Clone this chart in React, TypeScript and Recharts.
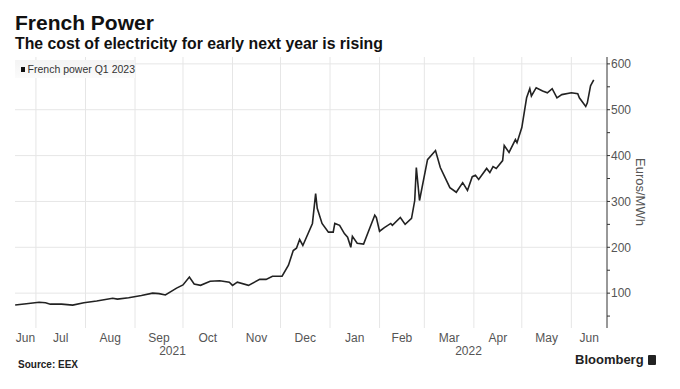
import { LineChart, Line, XAxis, YAxis, ReferenceLine } from "recharts";

// French power Q1 2023 contract, EUR/MWh
const dates = [
  "2021-06-18", "2021-06-25", "2021-07-03", "2021-07-07", "2021-07-10", "2021-07-17",
  "2021-07-24", "2021-07-31", "2021-08-08", "2021-08-18", "2021-08-21", "2021-08-28",
  "2021-09-05", "2021-09-12", "2021-09-16", "2021-09-20", "2021-09-27", "2021-10-01",
  "2021-10-05", "2021-10-08", "2021-10-12", "2021-10-18", "2021-10-24", "2021-10-30",
  "2021-11-01", "2021-11-04", "2021-11-11", "2021-11-18", "2021-11-22", "2021-11-26",
  "2021-12-02", "2021-12-06", "2021-12-09", "2021-12-11", "2021-12-13", "2021-12-15",
  "2021-12-21", "2021-12-23", "2021-12-24", "2021-12-27", "2021-12-31", "2022-01-03",
  "2022-01-04", "2022-01-07", "2022-01-10", "2022-01-12", "2022-01-14", "2022-01-15",
  "2022-01-18", "2022-01-22", "2022-01-26", "2022-01-29", "2022-01-30", "2022-02-01",
  "2022-02-04", "2022-02-08", "2022-02-09", "2022-02-14", "2022-02-17", "2022-02-21",
  "2022-02-23", "2022-02-24", "2022-02-26", "2022-03-03", "2022-03-08", "2022-03-11",
  "2022-03-14", "2022-03-17", "2022-03-21", "2022-03-25", "2022-03-28", "2022-03-31",
  "2022-04-02", "2022-04-04", "2022-04-09", "2022-04-11", "2022-04-13", "2022-04-15",
  "2022-04-19", "2022-04-20", "2022-04-23", "2022-04-27", "2022-04-28", "2022-05-01",
  "2022-05-04", "2022-05-06", "2022-05-07", "2022-05-10", "2022-05-14", "2022-05-17",
  "2022-05-20", "2022-05-23", "2022-05-26", "2022-06-01", "2022-06-05", "2022-06-06",
  "2022-06-10", "2022-06-11", "2022-06-13", "2022-06-15",
];

const prices = [
  74, 77, 80, 79, 76, 76,
  74, 79, 83, 89, 87, 90,
  95, 100, 99, 96, 111, 118,
  135, 120, 117, 126, 127, 124,
  117, 124, 117, 130, 130, 137,
  137, 161, 193, 198, 217, 204,
  252, 317, 285, 252, 233, 233,
  252, 248, 230, 222, 200, 224,
  209, 207, 243, 270, 265, 235,
  243, 252, 248, 265, 250, 263,
  302, 374, 302, 391, 411, 374,
  352, 330, 320, 341, 324, 354,
  357, 348, 372, 363, 376, 372,
  389, 422, 407, 435, 428, 461,
  526, 546, 530, 548, 541, 537,
  546, 526, 533, 537, 535, 526,
  507, 515, 552, 565,
];

const monthStarts = [
  "2021-07-01", "2021-08-01", "2021-09-01", "2021-10-01", "2021-11-01", "2021-12-01",
  "2022-01-01", "2022-02-01", "2022-03-01", "2022-04-01", "2022-05-01", "2022-06-01",
];
const monthLabels = ["Jun", "Jul", "Aug", "Sep", "Oct", "Nov", "Dec", "Jan", "Feb", "Mar", "Apr", "May", "Jun"];
const yearLabels = ["2021", "2022"];
const yGrid = [100, 200, 300, 400, 500, 600];
const yTicks = [50, 100, 150, 200, 250, 300, 350, 400, 450, 500, 550, 600];

const ORIGIN = Date.UTC(2021, 6, 1);
const toDay = (s: string) => {
  const [y, m, d] = s.split("-").map(Number);
  return (Date.UTC(y, m - 1, d) - ORIGIN) / 86400000;
};

const data = dates.map((d, i) => ({ t: toDay(d), v: prices[i] }));
const gridDays = monthStarts.map(toDay);
const xMin = -13.1;
const xMax = 357.3;

// label positions: middle of each visible month / year span
const bounds = [xMin, ...gridDays, xMax];
const monthTicks = monthLabels.map((_, i) => (bounds[i] + bounds[i + 1]) / 2);
const yearTicks = [(xMin + toDay("2022-01-01")) / 2, (toDay("2022-01-01") + xMax) / 2];

const font = "'Liberation Sans', Arial, sans-serif";
const grey = "#555";

export default function App() {
  return (
    <div
      style={{
        position: "fixed",
        left: 0,
        top: 0,
        width: 680,
        height: 389,
        background: "#fff",
        fontFamily: font,
        overflow: "hidden",
      }}
    >
      <div style={{ position: "absolute", left: 15, top: 11, fontSize: 21, fontWeight: 700, color: "#111" }}>
        French Power
      </div>
      <div style={{ position: "absolute", left: 15, top: 35, fontSize: 15.8, fontWeight: 700, color: "#111", whiteSpace: "nowrap" }}>
        The cost of electricity for early next year is rising
      </div>

      <div style={{ position: "absolute", left: 0, top: 0 }}>
        <LineChart width={680} height={389} data={data} margin={{ top: 57, right: 0, bottom: 0, left: 15 }}>
          {gridDays.map((d) => (
            <ReferenceLine key={"x" + d} x={d} stroke="#e6e6e6" strokeWidth={1} />
          ))}
          {yGrid.map((v) => (
            <ReferenceLine key={"y" + v} y={v} stroke="#e6e6e6" strokeWidth={1} />
          ))}
          <XAxis
            dataKey="t"
            type="number"
            domain={[xMin, xMax]}
            allowDataOverflow
            ticks={monthTicks}
            tickFormatter={(_v, i) => monthLabels[i]}
            interval={0}
            axisLine={false}
            tickLine={false}
            tickSize={0}
            tickMargin={5}
            height={14}
            tick={{ fill: grey, fontSize: 12, fontFamily: font }}
          />
          <XAxis
            xAxisId="year"
            dataKey="t"
            type="number"
            domain={[xMin, xMax]}
            allowDataOverflow
            ticks={yearTicks}
            tickFormatter={(_v, i) => yearLabels[i]}
            interval={0}
            axisLine={false}
            tickLine={false}
            tickSize={0}
            tickMargin={4}
            height={47}
            tick={{ fill: grey, fontSize: 12, fontFamily: font }}
          />
          <YAxis
            orientation="right"
            domain={[24, 615]}
            allowDataOverflow
            ticks={yTicks}
            interval={0}
            tickFormatter={(v) => (v % 100 === 0 ? String(v) : "")}
            axisLine={{ stroke: "#333", strokeWidth: 1 }}
            tickLine={{ stroke: "#333" }}
            tickSize={3}
            tickMargin={1}
            width={73}
            tick={{ fill: grey, fontSize: 12, fontFamily: font, textAnchor: "start" }}
          />
          <Line
            type="linear"
            dataKey="v"
            stroke="#222"
            strokeWidth={1.6}
            dot={false}
            isAnimationActive={false}
          />
        </LineChart>
      </div>

      <div
        style={{
          position: "absolute",
          left: 15,
          top: 60,
          width: 120,
          height: 18,
          background: "linear-gradient(#f4f4f4, #fbfbfb)",
          display: "flex",
          alignItems: "center",
          fontSize: 10.5,
          color: "#333",
          whiteSpace: "nowrap",
        }}
      >
        <span style={{ display: "inline-block", width: 5, height: 5, background: "#111", marginLeft: 6, marginRight: 3 }} />
        French power Q1 2023
      </div>

      <div
        style={{
          position: "absolute",
          left: 640,
          top: 192,
          transform: "translate(-50%, -50%) rotate(90deg)",
          fontSize: 13,
          color: grey,
          whiteSpace: "nowrap",
        }}
      >
        Euros/MWh
      </div>

      <div style={{ position: "absolute", left: 18, top: 359, fontSize: 10, fontWeight: 700, color: "#222" }}>
        Source: EEX
      </div>
      <div
        style={{
          position: "absolute",
          left: 575,
          top: 352,
          fontSize: 13,
          fontWeight: 700,
          color: "#222",
          display: "flex",
          alignItems: "center",
        }}
      >
        Bloomberg
        <span style={{ display: "inline-block", width: 8, height: 10, background: "#222", marginLeft: 4, borderRadius: 1 }} />
      </div>
    </div>
  );
}
